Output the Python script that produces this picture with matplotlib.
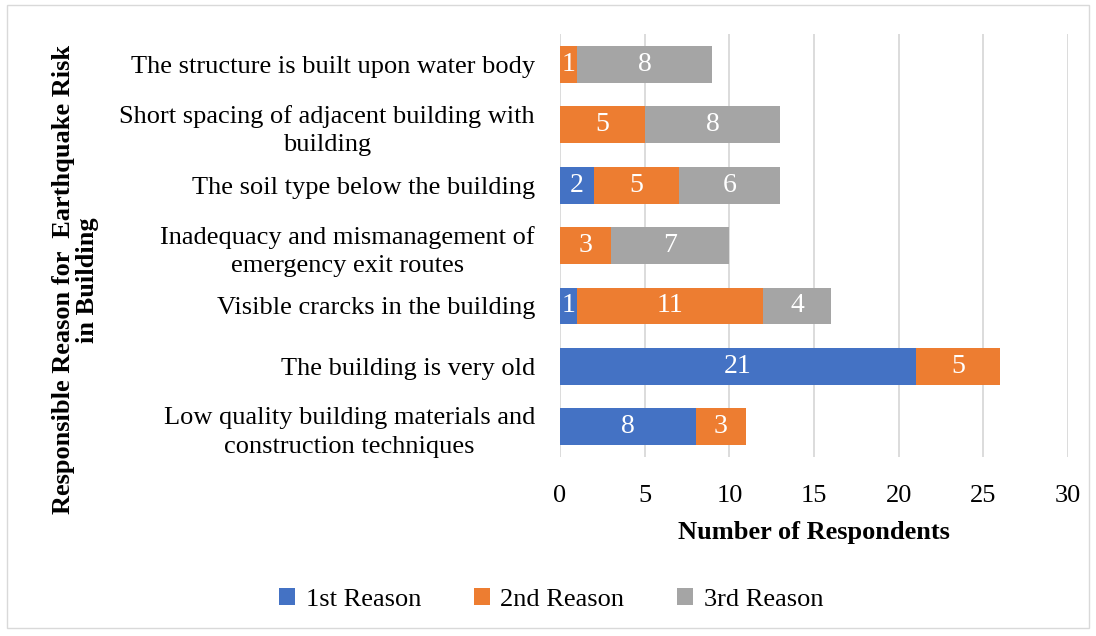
import numpy as np
import matplotlib.pyplot as plt
from matplotlib.patches import Rectangle

# categories listed bottom to top
reasons = [
    "Low quality building materials and\nconstruction techniques",
    "The building is very old",
    "Visible crarcks in the building",
    "Inadequacy and mismanagement of\nemergency exit routes",
    "The soil type below the building",
    "Short spacing of adjacent building with\nbuilding",
    "The structure is built upon water body",
]
first = [8, 21, 1, 0, 2, 0, 0]
second = [3, 5, 11, 3, 5, 5, 1]
third = [0, 0, 4, 7, 6, 8, 8]
series_names = ["1st Reason", "2nd Reason", "3rd Reason"]
colors = ["#4472C4", "#ED7D31", "#A5A5A5"]
xticks = [0, 5, 10, 15, 20, 25, 30]

plt.rcParams['font.family'] = ['Liberation Serif', 'DejaVu Serif']
FS = 19

fig = plt.figure(figsize=(10.96, 6.36), dpi=100)
ax = fig.add_axes([0.511, 0.2814, 0.4635, 0.6651])

y = np.arange(len(reasons))
left = np.zeros(len(reasons))
for vals, name, col in zip([first, second, third], series_names, colors):
    vals = np.array(vals, dtype=float)
    bars = ax.barh(y, vals, left=left, height=0.61, color=col, label=name, zorder=3)
    for b, v in zip(bars, vals):
        if v > 0:
            ax.text(b.get_x() + b.get_width() / 2, b.get_y() + b.get_height() / 2,
                    f"{int(v)}", color="white", ha="center", va="center",
                    fontsize=FS + 1, zorder=4)
    left += vals

ax.set_xlim(0, 30)
ax.set_ylim(-0.5, len(reasons) - 0.5)
ax.set_xticks(xticks)
ax.set_xticklabels([str(t) for t in xticks], fontsize=FS)
ax.set_yticks(y)
ax.set_yticklabels(reasons, fontsize=FS, multialignment="center", linespacing=1.4)
ax.tick_params(axis="y", length=0, pad=18)
ax.tick_params(axis="x", length=0, pad=20)
ax.grid(axis="x", color="#D9D9D9", linewidth=1.3, zorder=0)
for s in ax.spines.values():
    s.set_visible(False)

ax.set_xlabel("Number of Respondents", fontsize=FS, fontweight="bold", labelpad=10)
fig.text(0.069, 0.56, "Responsible Reason for  Earthquake Risk\nin Building",
         rotation=90, ha="center", va="center", fontsize=FS, fontweight="bold",
         multialignment="center", linespacing=1.05)

handles, labels = ax.get_legend_handles_labels()
fig.legend(handles, labels, loc="center", bbox_to_anchor=(0.503, 0.057), ncol=3,
           frameon=False, fontsize=FS, handlelength=0.6, handleheight=0.6,
           columnspacing=2.0, handletextpad=0.4)

# thin frame around the whole chart
fig.patches.append(Rectangle((0.006, 0.012), 0.988, 0.98, transform=fig.transFigure,
                             fill=False, edgecolor="#D9D9D9", linewidth=1))

fig.savefig("out.png", dpi=100)
